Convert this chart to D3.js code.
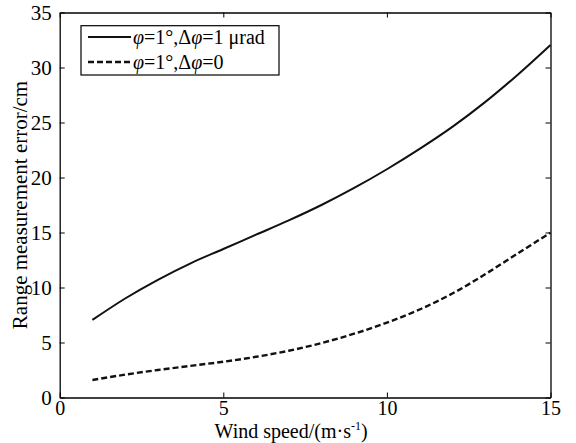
<!DOCTYPE html>
<html>
<head>
<meta charset="utf-8">
<script src="https://cdn.jsdelivr.net/npm/d3@7"></script>
<style>
html,body{margin:0;padding:0;background:#fff;}
svg{display:block;}
</style>
</head>
<body>
<svg id="chart" width="576" height="443"></svg>
<script>
const windSpeed = [1,2,3,4,5,6,7,8,9,10,11,12,13,14,15];
const errorWithDrift = [7.05,9.0,10.7,12.2,13.5,14.8,16.1,17.5,19.05,20.75,22.6,24.6,26.85,29.35,32.05];
const errorNoDrift = [1.59,2.08,2.5,2.88,3.25,3.7,4.25,4.95,5.8,6.8,8.0,9.45,11.2,13.1,14.98];
const xTicks = [0,5,10,15];
const yTicks = [0,5,10,15,20,25,30,35];

const W = 576, H = 443;
const m = {left:59.7, right:25.5, top:12.5, bottom:45.5};
const svg = d3.select("#chart");
const x = d3.scaleLinear().domain([0,15]).range([m.left, W-m.right]);
const y = d3.scaleLinear().domain([0,35]).range([H-m.bottom, m.top]);
const FONT = '"Liberation Serif"';

const fs = 21;
const gx = svg.append("g").attr("transform",`translate(0,${y(0)})`)
  .call(d3.axisBottom(x).tickValues(xTicks).tickSizeInner(-5).tickSizeOuter(0).tickPadding(3));
const gxTop = svg.append("g").attr("transform",`translate(0,${y(35)})`)
  .call(d3.axisTop(x).tickValues(xTicks).tickSizeInner(-5).tickSizeOuter(0).tickFormat(""));
const gy = svg.append("g").attr("transform",`translate(${x(0)},0)`)
  .call(d3.axisLeft(y).tickValues(yTicks).tickSizeInner(-5).tickSizeOuter(0).tickPadding(8));
const gyR = svg.append("g").attr("transform",`translate(${x(15)},0)`)
  .call(d3.axisRight(y).tickValues(yTicks).tickSizeInner(-5).tickSizeOuter(0).tickFormat(""));
[gx,gxTop,gy,gyR].forEach(g=>{
  g.attr("font-family",null).attr("font-size",null);
  g.select(".domain").attr("stroke","#000").attr("stroke-width",1.3);
  g.selectAll(".tick line").attr("stroke","#000").attr("stroke-width",1);
  g.selectAll("text").attr("fill","#000").style("font-size",fs+"px");
});
gx.selectAll(".tick text").style("font-size","20px").attr("dy","0.72em");

const line = d3.line().x((d,i)=>x(windSpeed[i])).y(d=>y(d)).curve(d3.curveCatmullRom.alpha(0.5));
svg.append("path").datum(errorWithDrift).attr("d",line)
  .attr("fill","none").attr("stroke","#111").attr("stroke-width",2);
svg.append("path").datum(errorNoDrift).attr("d",line)
  .attr("fill","none").attr("stroke","#111").attr("stroke-width",2.4)
  .attr("stroke-dasharray","6,3");

const xl = svg.append("text").attr("x",(x(0)+x(15))/2-14).attr("y",437.5)
  .attr("text-anchor","middle").style("font-size","20px").attr("fill","#000");
xl.append("tspan").text("Wind speed/(m·s");
xl.append("tspan").text("-1").style("font-size","12px").attr("dy",-8);
xl.append("tspan").text(")").attr("dy",8);

svg.append("text").attr("transform",`translate(27,${(y(0)+y(35))/2}) rotate(-90)`)
  .attr("text-anchor","middle").style("font-size","21px").attr("fill","#000")
  .text("Range measurement error/cm");

const lg = svg.append("g");
lg.append("rect").attr("x",81).attr("y",25.7).attr("width",198).attr("height",49.3)
  .attr("fill","#fff").attr("stroke","#000").attr("stroke-width",1.2);
const items = [
  {dash:null, sw:2, label:[["φ",true],["=1°,Δ",false],["φ",true],["=1 μrad",false]]},
  {dash:"6,3", sw:2.4, label:[["φ",true],["=1°,Δ",false],["φ",true],["=0",false]]}
];
items.forEach((it,i)=>{
  const cy = 37 + i*25;
  const l = lg.append("line").attr("x1",88).attr("x2",131).attr("y1",cy).attr("y2",cy)
    .attr("stroke","#111").attr("stroke-width",it.sw);
  if(it.dash) l.attr("stroke-dasharray",it.dash);
  const t = lg.append("text").attr("x",133).attr("y",cy+7).style("font-size","20px").attr("fill","#000");
  it.label.forEach(([s,ital])=>t.append("tspan").text(s).style("font-style",ital?"italic":"normal"));
});

svg.selectAll("text").style("font-family", FONT);
</script>
</body>
</html>
